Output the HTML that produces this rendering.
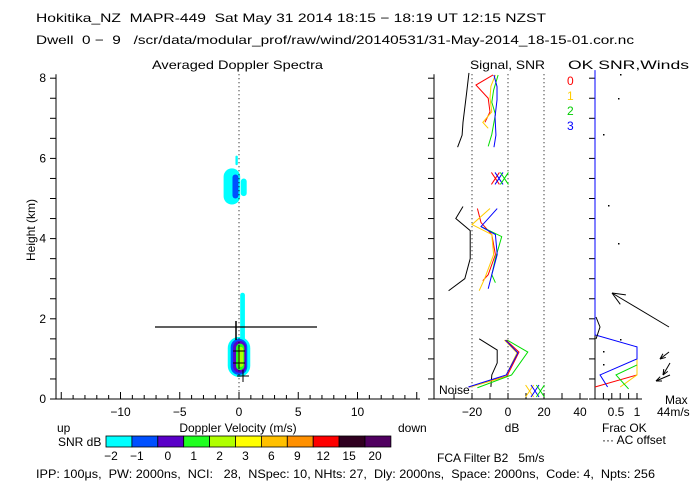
<!DOCTYPE html>
<html><head><meta charset="utf-8"><style>
body{margin:0;background:#fff}
svg{display:block;font-family:"Liberation Sans",sans-serif}
text{font-size:12px;fill:#000;white-space:pre}
</style></head><body>
<svg id="s" width="700" height="500" viewBox="0 0 700 500" xml:space="preserve">
<text x="36" y="22" textLength="510" lengthAdjust="spacingAndGlyphs">Hokitika_NZ  MAPR-449  Sat May 31 2014 18:15 − 18:19 UT 12:15 NZST</text>
<text x="36" y="44" textLength="598" lengthAdjust="spacingAndGlyphs">Dwell  0 −  9   /scr/data/modular_prof/raw/wind/20140531/31-May-2014_18-15-01.cor.nc</text>
<text x="152" y="69" textLength="171" lengthAdjust="spacingAndGlyphs">Averaged Doppler Spectra</text>
<text x="470" y="69" textLength="75" lengthAdjust="spacingAndGlyphs">Signal, SNR</text>
<text x="568" y="69" textLength="121" lengthAdjust="spacingAndGlyphs">OK SNR,Winds</text>
<text transform="translate(35,230) rotate(-90)" text-anchor="middle" font-size="11">Height (km)</text>
<text x="238" y="432" text-anchor="middle" font-size="11">Doppler Velocity (m/s)</text>
<text x="57" y="432">up</text>
<text x="398" y="432">down</text>
<text x="58" y="446">SNR dB</text>
<text x="512" y="432" text-anchor="middle">dB</text>
<text x="602" y="432">Frac OK</text>
<text x="602" y="444">··· AC offset</text>
<text x="665" y="404">Max</text>
<text x="657" y="416">44m/s</text>
<text x="437" y="462">FCA Filter B2   5m/s</text>
<text x="36" y="478" textLength="619" lengthAdjust="spacingAndGlyphs">IPP: 100μs,  PW: 2000ns,  NCI:   28,  NSpec: 10, NHts: 27,  Dly: 2000ns,  Space: 2000ns,  Code: 4,  Npts: 256</text>
<text x="439" y="394">Noise</text>
<text x="567" y="85" style="fill:#f00">0</text>
<text x="567" y="100" style="fill:#fc0">1</text>
<text x="567" y="115" style="fill:#0c0">2</text>
<text x="567" y="130" style="fill:#00f">3</text>
<g id="g"></g>
</svg>
<script>
const heightTicks=[0,2,4,6,8];
const velTicks=[-10,-5,0,5,10];
const dbTicks=[-20,0,20,40];
const dbGrid=[-20,0,20];
const fracTicks=["0.5","1"];
const cbLabels=["−2","−1","0","1","2","3","6","9","12","15","20"];
const cbColors=["#00ffff","#0050ff","#5a00c8","#20ff20","#b0ff00","#ffff00","#ffc000","#ff9000","#ff0000","#300020","#500060"];
const noiseTop=[[8.13,-21.7],[7.63,-23],[6.9,-25],[6.58,-25.5],[6.28,-28]];
const noiseMid=[[4.8,-25],[4.5,-29],[4.2,-21],[3.5,-21],[3.0,-24],[2.7,-33]];
const noiseLow=[[1.5,-16],[1.22,-6],[0.9,-6],[0.6,-9],[0.3,-9.5]];
const redTop=[[8.08,-8.3],[7.83,-17.8],[7.5,-11],[7.16,-10],[6.9,-12.8]];
const orangeTop=[[8.08,-7],[7.8,-9.5],[7.5,-10],[7.16,-9],[6.9,-14],[6.75,-11]];
const greenTop=[[8.08,-5.5],[7.7,-8],[7.4,-9],[7.1,-7],[6.6,-9],[6.3,-11]];
const blueTop=[[8.08,-7.8],[7.79,-6.1],[7.46,-6.1],[7.04,-7.2],[6.58,-6.7],[6.28,-7.8]];
const redMid=[[4.75,-17],[4.4,-15],[4.1,-9],[3.6,-7],[3.1,-11],[2.95,-14]];
const orangeMid=[[4.75,-10],[4.35,-20],[4.1,-9],[3.6,-8],[3.0,-13],[2.7,-16]];
const greenMid=[[4.3,-15],[4.05,-3.5],[3.5,-7],[3.1,-9],[2.9,-7]];
const blueMid=[[4.75,-6],[4.3,-15],[4.1,-7],[3.6,-6],[3.1,-9],[2.75,-11]];
const redLow=[[0.3,-21.7],[0.57,-0.6],[1.17,6.1],[1.47,-1.1]];
const orangeLow=[[0.3,-21],[0.55,-1.5],[1.15,5],[1.47,-2]];
const greenLow=[[0.28,-17],[0.6,2],[1.17,11],[1.47,-0.5]];
const blueLow=[[0.3,-22],[0.6,-1],[1.15,5.5],[1.47,-1.5]];
const blueFrac=[[8.2,0],[1.6,0],[1.3,1],[1.0,1],[0.6,0.12],[0.3,0.3]];
const redFrac=[[0.3,0],[0.6,1]];
const orangeFrac=[[0.3,0.6],[0.6,1],[1.0,1]];
const greenFrac=[[0.25,0.8],[0.6,0.5],[0.85,1]];
const blobs=[[-0.6,5.3,0.7,0.45,0],[-0.3,5.3,0.25,0.3,1],[0.4,5.28,0.25,0.22,0],[-0.2,5.95,0.1,0.12,0],[0.3,2.0,0.2,0.65,0],[0,1.05,0.95,0.5,0],[0,1.05,0.7,0.45,1],[0.05,1.05,0.55,0.4,2],[0.1,1.05,0.35,0.33,3],[0.15,1.05,0.22,0.25,4]];

const NS="http://www.w3.org/2000/svg",g=document.getElementById('g');
function el(t,a){const e=document.createElementNS(NS,t);for(const k in a)e.setAttribute(k,a[k]);g.appendChild(e);return e;}
const Y=h=>399-40.1*h, XV=v=>239+11.85*v, XD=d=>508+1.8*d, XF=f=>595+42*f;
blobs.forEach(b=>{const e=el('rect',{x:XV(b[0]-b[2]),y:Y(b[1]+b[3]),width:2*b[2]*11.85,height:2*b[3]*40.1,rx:b[2]*11.85,ry:b[2]*11.85,fill:cbColors[b[4]]});

});
let e=el('path',{d:`M56 ${Y(8.1)}V399H420`,stroke:'#000',fill:'none'});

for(let h=0;h<=8;h+=0.5){el('line',{x1:50,x2:56,y1:Y(h),y2:Y(h),stroke:'#000'});el('line',{x1:428,x2:434,y1:Y(h),y2:Y(h),stroke:'#000'});el('line',{x1:589,x2:595,y1:Y(h),y2:Y(h),stroke:'#000'});}
heightTicks.forEach(h=>{const t=el('text',{x:46,y:Y(h)+4,'text-anchor':'end'});t.textContent=h;
});
for(let v=-15;v<=15;v++){const x=XV(v);if(x<57||x>420)continue;el('line',{x1:x,x2:x,y1:399,y2:v%5?395:392,stroke:'#000'});}
velTicks.forEach(v=>{const t=el('text',{x:XV(v),y:416,'text-anchor':'middle'});t.textContent=v<0?'−'+Math.abs(v):v;
});
el('line',{x1:XV(0),x2:XV(0),y1:Y(8.1),y2:399,stroke:'#000','stroke-dasharray':'1 3'});
el('line',{x1:155,x2:317,y1:327,y2:327,stroke:'#000','stroke-width':1.3});
el('line',{x1:236,x2:236,y1:321,y2:340,stroke:'#000','stroke-width':1.5});
[[239,351],[239,363],[243,376]].forEach(p=>{el('path',{d:`M${p[0]-6} ${p[1]}h12M${p[0]} ${p[1]-6}v12`,stroke:'#000'});});
el('path',{d:`M434 ${Y(8.1)}V399H588`,stroke:'#000',fill:'none'});
for(let d=-30;d<=40;d+=10){el('line',{x1:XD(d),x2:XD(d),y1:399,y2:393,stroke:'#000'});}
dbTicks.forEach(d=>{const t=el('text',{x:XD(d),y:416,'text-anchor':'middle'});t.textContent=d<0?'−'+(-d):d;
});
dbGrid.forEach(d=>el('line',{x1:XD(d),x2:XD(d),y1:Y(8.1),y2:399,stroke:'#000','stroke-dasharray':'1 3'}));
function line(pts,xf,col,name){const p=el('polyline',{points:pts.map(q=>xf(q[1])+','+Y(q[0])).join(' '),fill:'none',stroke:col});
}
[noiseTop,noiseMid,noiseLow].forEach(s=>line(s,XD,'#000','noise-line'));
[[redTop,'#f00'],[orangeTop,'#fc0'],[greenTop,'#0d0'],[blueTop,'#00f'],[redMid,'#f00'],[orangeMid,'#fc0'],[greenMid,'#0d0'],[blueMid,'#00f'],[redLow,'#f00'],[orangeLow,'#fc0'],[greenLow,'#0d0'],[blueLow,'#00f']].forEach(s=>line(s[0],XD,s[1],'snr-line'));
[[-7,5.5,'#f00'],[-5,5.5,'#00f'],[-2,5.5,'#0d0'],[12,0.2,'#fc0'],[15,0.2,'#00f'],[18,0.2,'#0d0']].forEach(c=>{const x=XD(c[0]),y=Y(c[1]);el('path',{d:`M${x-4} ${y-6}L${x+4} ${y+6}M${x+4} ${y-6}L${x-4} ${y+6}`,stroke:c[2]});});
el('path',{d:`M595 ${Y(8.1)}V399H642`,stroke:'#000',fill:'none'});
for(let f=0;f<=1.001;f+=0.2){el('line',{x1:XF(f),x2:XF(f),y1:399,y2:393,stroke:'#000'});}
fracTicks.forEach(f=>{const t=el('text',{x:XF(+f),y:416,'text-anchor':'middle'});t.textContent=f;
});
line(redFrac,XF,'#f00','frac-line');line(orangeFrac,XF,'#fc0','frac-line');line(greenFrac,XF,'#0d0','frac-line');line(blueFrac,XF,'#00f','frac-line');
el('polyline',{points:'596,317 600,327 596,339',fill:'none',stroke:'#000'});
[[669,327,612,293],[669,352,660,359],[670,363,663,375],[670,375,656,381]].forEach(a=>{const w=el('line',{x1:a[0],y1:a[1],x2:a[2],y2:a[3],stroke:'#000'});

const ang=Math.atan2(a[1]-a[3],a[0]-a[2]),L=a[0]-a[2]>20?14:6;
[0.4,-0.4].forEach(d=>el('line',{x1:a[2],y1:a[3],x2:a[2]+L*Math.cos(ang+d),y2:a[3]+L*Math.sin(ang+d),stroke:'#000'}));});
[[620,74],[618,98],[603,134],[618,243],[608,205],[620,339],[603,351],[603,364],[608,399]].forEach(p=>el('rect',{x:p[0],y:p[1],width:1.5,height:1.5,fill:'#000'}));
cbColors.forEach((c,i)=>{const r=el('rect',{x:106+i*25.9,y:436,width:25.9,height:11,fill:c,stroke:'#000','stroke-width':0.8});

const t=el('text',{x:106+i*25.9+(i<2?5:10),y:460,'text-anchor':'middle'});t.textContent=cbLabels[i];
});
</script>
</body></html>
